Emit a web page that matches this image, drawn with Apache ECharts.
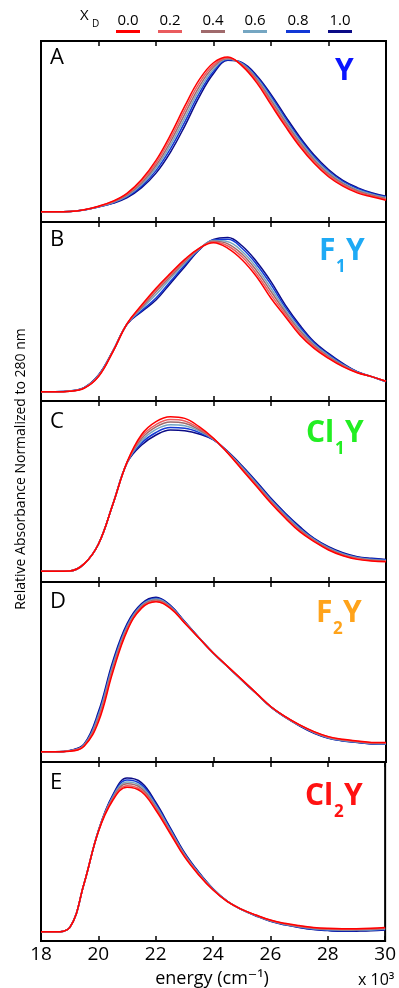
<!DOCTYPE html>
<html>
<head>
<meta charset="utf-8">
<script src="https://cdn.jsdelivr.net/npm/echarts@6/dist/echarts.min.js"></script>
<style>
  html, body { margin: 0; padding: 0; background: #fff; }
  #main { width: 399px; height: 988px; }
</style>
</head>
<body>
<div id="main"></div>
<script>
// energy axis (x 10^3 cm-1)
var energy = [18, 18.5, 19, 19.5, 20, 20.5, 21, 21.5, 22, 22.5, 23, 23.5, 24, 24.5, 25, 25.5, 26, 26.5, 27, 27.5, 28, 28.5, 29, 29.5, 30];
var xdLabels = ['0.0', '0.2', '0.4', '0.6', '0.8', '1.0'];
var panelLetters = ['A', 'B', 'C', 'D', 'E'];

// A : Y
var a00 = [.056,.056,.058,.068,.087,.115,.16,.235,.34,.48,.64,.785,.88,.912,.861,.77,.648,.528,.417,.324,.25,.198,.161,.139,.12];
var a02 = [.056,.056,.058,.068,.086,.113,.155,.226,.326,.461,.618,.766,.868,.908,.865,.78,.66,.54,.428,.334,.258,.205,.167,.144,.125];
var a04 = [.056,.056,.058,.067,.085,.11,.15,.216,.312,.442,.596,.747,.856,.904,.869,.788,.672,.552,.439,.343,.266,.212,.173,.149,.13];
var a06 = [.056,.056,.058,.067,.085,.108,.145,.207,.298,.423,.574,.728,.844,.9,.873,.795,.684,.563,.45,.352,.274,.218,.179,.154,.135];
var a08 = [.056,.056,.058,.066,.084,.105,.14,.198,.284,.404,.552,.709,.832,.896,.877,.802,.695,.574,.46,.361,.282,.224,.185,.158,.139];
var a10 = [.056,.056,.058,.066,.083,.103,.135,.19,.27,.385,.53,.69,.82,.893,.88,.81,.705,.585,.47,.37,.29,.23,.19,.162,.143];

// B : F1Y
var b00 = [.052,.052,.055,.071,.136,.275,.434,.536,.63,.713,.791,.853,.884,.853,.788,.694,.574,.471,.369,.294,.238,.192,.158,.136,.11];
var b02 = [.052,.052,.055,.072,.138,.276,.433,.53,.622,.705,.785,.852,.888,.866,.804,.71,.593,.484,.38,.302,.243,.195,.159,.136,.11];
var b04 = [.052,.052,.055,.073,.14,.277,.432,.523,.61,.695,.778,.85,.892,.878,.82,.728,.612,.497,.392,.31,.248,.199,.16,.136,.11];
var b06 = [.052,.052,.056,.073,.142,.278,.432,.515,.595,.684,.77,.848,.896,.89,.835,.745,.63,.51,.403,.317,.254,.202,.161,.136,.109];
var b08 = [.052,.052,.056,.074,.144,.279,.431,.505,.575,.667,.76,.846,.9,.903,.852,.763,.65,.523,.415,.324,.26,.206,.163,.136,.109];
var b10 = [.052,.052,.056,.075,.145,.28,.43,.499,.564,.657,.75,.844,.903,.914,.866,.778,.667,.536,.425,.331,.266,.21,.164,.136,.108];

// C : Cl1Y
var c00 = [.06,.06,.061,.1,.21,.43,.665,.815,.886,.913,.904,.858,.794,.711,.619,.527,.435,.352,.278,.223,.177,.145,.125,.116,.112];
var c02 = [.06,.06,.061,.1,.21,.43,.664,.804,.87,.898,.89,.849,.792,.713,.623,.532,.44,.357,.283,.227,.18,.148,.128,.118,.114];
var c04 = [.06,.06,.061,.1,.21,.43,.663,.792,.857,.884,.877,.841,.79,.715,.627,.538,.446,.363,.289,.23,.184,.151,.131,.121,.116];
var c06 = [.06,.06,.061,.1,.21,.43,.662,.78,.843,.869,.863,.834,.788,.717,.632,.543,.451,.369,.294,.234,.188,.155,.134,.124,.119];
var c08 = [.06,.06,.061,.1,.21,.43,.661,.768,.826,.853,.849,.826,.786,.718,.636,.549,.457,.375,.3,.238,.191,.158,.137,.128,.122];
var c10 = [.06,.06,.061,.1,.21,.43,.66,.757,.812,.84,.836,.818,.785,.72,.641,.554,.462,.38,.306,.241,.195,.162,.14,.131,.125];

// D : F2Y
var d00 = [.057,.057,.06,.088,.224,.5,.73,.855,.89,.854,.771,.687,.604,.53,.456,.381,.307,.252,.206,.169,.141,.126,.117,.109,.109];
var d02 = [.057,.057,.061,.09,.235,.512,.738,.86,.895,.857,.773,.688,.604,.53,.455,.38,.307,.251,.205,.167,.139,.124,.115,.107,.107];
var d04 = [.057,.057,.062,.093,.246,.524,.746,.865,.9,.861,.775,.688,.604,.529,.454,.38,.306,.25,.204,.165,.137,.122,.113,.105,.105];
var d06 = [.057,.057,.062,.095,.258,.536,.754,.87,.905,.864,.776,.689,.604,.529,.454,.379,.306,.25,.203,.164,.135,.12,.111,.103,.102];
var d08 = [.057,.057,.063,.098,.269,.548,.762,.875,.91,.867,.778,.689,.604,.528,.453,.379,.305,.249,.202,.162,.133,.118,.11,.101,.1];
var d10 = [.057,.057,.064,.1,.28,.56,.77,.88,.915,.87,.78,.69,.604,.528,.452,.378,.305,.248,.2,.16,.132,.117,.108,.1,.098];

// E : Cl2Y
var e00 = [.052,.052,.075,.32,.611,.785,.859,.834,.732,.602,.471,.369,.285,.22,.177,.145,.117,.099,.086,.076,.071,.069,.069,.071,.076];
var e02 = [.052,.052,.075,.32,.612,.791,.868,.843,.74,.608,.476,.372,.286,.22,.177,.144,.116,.097,.084,.074,.068,.066,.066,.068,.073];
var e04 = [.052,.052,.075,.32,.613,.797,.878,.853,.748,.614,.481,.375,.288,.221,.176,.143,.115,.095,.081,.071,.065,.063,.063,.065,.07];
var e06 = [.052,.052,.075,.32,.614,.803,.888,.863,.757,.621,.485,.378,.289,.221,.176,.142,.113,.093,.079,.069,.063,.06,.061,.062,.067];
var e08 = [.052,.052,.075,.32,.615,.809,.899,.874,.766,.628,.49,.382,.291,.222,.175,.141,.112,.092,.077,.066,.06,.057,.058,.06,.064];
var e10 = [.052,.052,.075,.32,.616,.815,.91,.885,.775,.635,.495,.385,.292,.222,.175,.14,.11,.09,.075,.064,.058,.054,.055,.057,.062];

var panels = [
  [a00, a02, a04, a06, a08, a10],
  [b00, b02, b04, b06, b08, b10],
  [c00, c02, c04, c06, c08, c10],
  [d00, d02, d04, d06, d08, d10],
  [e00, e02, e04, e06, e08, e10]
];

var lineColors = ['#ff0000', '#ea5b5e', '#a06a6c', '#75a6c2', '#1238d6', '#0b0b86'];

// layout
var plotLeft = 41, plotWidth = 345;
var panelTop = [41, 222, 401, 582, 762];
var panelH = [181, 179, 181, 180, 179];
var font = '"Open Sans", "DejaVu Sans", sans-serif';

var chart = echarts.init(document.getElementById('main'));

var grids = [], xAxes = [], yAxes = [], series = [];
for (var i = 0; i < 5; i++) {
  grids.push({
    left: plotLeft, width: plotWidth, top: panelTop[i], height: panelH[i],
    show: true, borderColor: '#000', borderWidth: 2, backgroundColor: 'transparent'
  });
  // bottom axis
  xAxes.push({
    type: 'value', gridIndex: i, position: 'bottom', min: 18, max: 30, interval: 2,
    axisLine: { show: false },
    axisTick: { show: true, inside: true, length: 5, lineStyle: { color: '#000', width: 1.5 } },
    axisLabel: {
      show: i === 4, color: '#000', fontSize: 19, fontFamily: font, margin: 4
    },
    splitLine: { show: false }
  });
  // top axis
  xAxes.push({
    type: 'value', gridIndex: i, position: 'top', min: 18, max: 30, interval: 2,
    axisLine: { show: false },
    axisTick: { show: true, inside: true, length: 5, lineStyle: { color: '#000', width: 1.5 } },
    axisLabel: { show: false },
    splitLine: { show: false }
  });
  yAxes.push({
    type: 'value', gridIndex: i, min: 0, max: 1, show: false
  });
  // draw 1.0 first so red sits on top
  for (var k = 5; k >= 0; k--) {
    var vals = panels[i][k];
    series.push({
      type: 'line',
      name: xdLabels[k],
      xAxisIndex: 2 * i,
      yAxisIndex: i,
      data: energy.map(function (e, j) { return [e, vals[j]]; }),
      showSymbol: false,
      smooth: 0.4,
      lineStyle: { color: lineColors[k], width: 1.5 },
      silent: true,
      z: 2
    });
  }
}

var graphics = [];
// panel letters
var letterBase = [68, 250, 432, 612, 793];
panelLetters.forEach(function (l, i) {
  graphics.push({
    type: 'text', left: 50, top: letterBase[i] - 21,
    style: { text: l, fontSize: 22, fontFamily: font, fill: '#000' }
  });
});

// compound labels, built from pieces so the subscript can sit low
function compound(parts, baseY, rightX, color) {
  var children = [];
  var x = 0;
  parts.forEach(function (p) {
    children.push({
      type: 'text', x: x, y: p[1] ? 10 : 0,
      style: {
        text: p[0], fontSize: p[1] ? 17 : 30, fontWeight: 'bold', fontFamily: font,
        fill: color, textVerticalAlign: 'bottom', verticalAlign: 'bottom'
      }
    });
    x += p[2];
  });
  graphics.push({ type: 'group', x: rightX - x, y: baseY + 6, children: children });
}
compound([['Y', false, 19]], 80, 354, '#0a14ff');
compound([['F', false, 17], ['1', true, 10], ['Y', false, 19]], 260, 365, '#1eaaf5');
compound([['Cl', false, 29], ['1', true, 10], ['Y', false, 19]], 442, 364, '#22ee22');
compound([['F', false, 17], ['2', true, 10], ['Y', false, 19]], 622, 362, '#ffa31a');
compound([['Cl', false, 29], ['2', true, 10], ['Y', false, 19]], 805, 363, '#ff1212');

// legend at top
graphics.push({
  type: 'text', left: 80, top: 8,
  style: { text: 'X', fontSize: 15, fontFamily: font, fill: '#000' }
});
graphics.push({
  type: 'text', left: 92, top: 19,
  style: { text: 'D', fontSize: 10, fontFamily: font, fill: '#000' }
});
var legendX = [128, 170, 213, 255, 298, 340];
xdLabels.forEach(function (t, k) {
  graphics.push({
    type: 'text', x: legendX[k], y: 28,
    style: {
      text: t, fontSize: 15, fontFamily: font, fill: '#000',
      textAlign: 'center', textVerticalAlign: 'bottom', align: 'center', verticalAlign: 'bottom'
    }
  });
  graphics.push({
    type: 'rect', shape: { x: legendX[k] - 12, y: 30, width: 24, height: 3 },
    style: { fill: lineColors[k] }
  });
});

// axis titles
graphics.push({
  type: 'text', x: 21, y: 469, rotation: Math.PI / 2,
  style: {
    text: 'Relative Absorbance Normalized to 280 nm', fontSize: 14, fontFamily: font, fill: '#000',
    align: 'center', verticalAlign: 'middle', textAlign: 'center', textVerticalAlign: 'middle'
  }
});
graphics.push({
  type: 'text', x: 212, y: 979,
  style: {
    text: 'energy (cm\u207B\u00B9)', fontSize: 18, fontFamily: font, fill: '#000',
    align: 'center', verticalAlign: 'middle', textAlign: 'center', textVerticalAlign: 'middle'
  }
});
graphics.push({
  type: 'text', left: 358, top: 972,
  style: { text: 'x 10\u00B3', fontSize: 16, fontFamily: font, fill: '#000' }
});

var option = {
  animation: false,
  backgroundColor: '#fff',
  grid: grids,
  xAxis: xAxes,
  yAxis: yAxes,
  series: series,
  graphic: graphics
};
chart.setOption(option);
</script>
</body>
</html>
